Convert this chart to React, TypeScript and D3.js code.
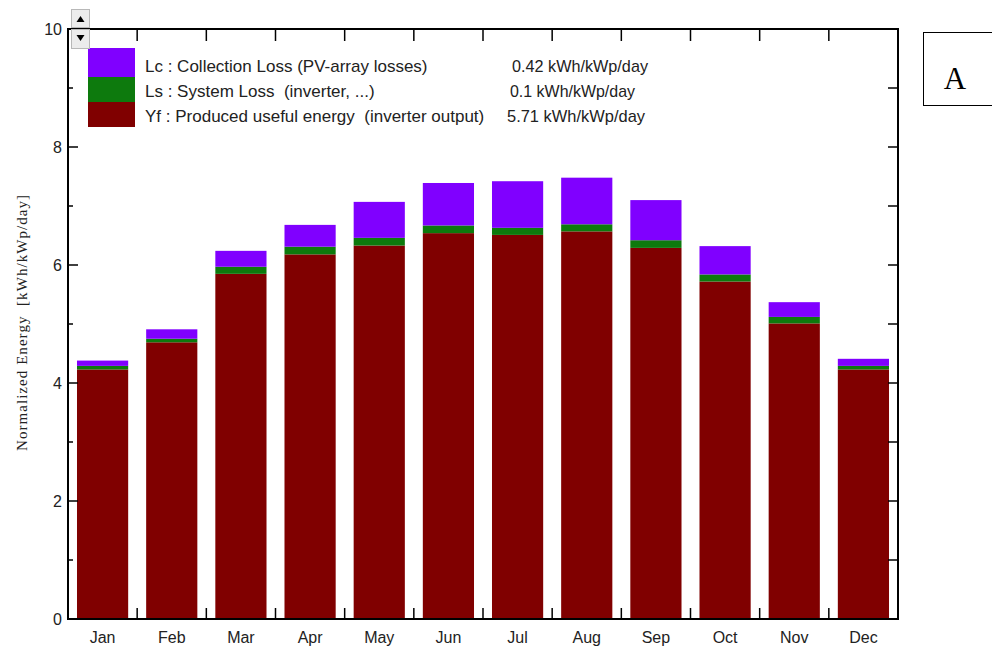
import React from "react";
import * as d3 from "d3";

const months = ["Jan", "Feb", "Mar", "Apr", "May", "Jun", "Jul", "Aug", "Sep", "Oct", "Nov", "Dec"];
const yf = [4.23, 4.69, 5.85, 6.18, 6.33, 6.54, 6.51, 6.57, 6.29, 5.72, 5.01, 4.23];
const ls = [0.06, 0.06, 0.12, 0.13, 0.13, 0.13, 0.12, 0.12, 0.13, 0.12, 0.11, 0.06];
const lc = [0.09, 0.16, 0.27, 0.37, 0.61, 0.72, 0.79, 0.79, 0.68, 0.48, 0.25, 0.12];
const yTicks = [0, 2, 4, 6, 8, 10];
const legendItems = [
  { key: "lc", label: "Lc : Collection Loss (PV-array losses)", value: "0.42 kWh/kWp/day" },
  { key: "ls", label: "Ls : System Loss\u00a0\u00a0(inverter, ...)", value: "0.1 kWh/kWp/day" },
  { key: "yf", label: "Yf : Produced useful energy\u00a0\u00a0(inverter output)", value: "5.71 kWh/kWp/day" },
];
const colors: Record<string, string> = { lc: "#8000ff", ls: "#0d7a0d", yf: "#800000" };

const W = 992, H = 646;
const L = 68, R = 898, T = 29, B = 619;

export default function App() {
  const x = d3.scaleBand<string>().domain(months).range([L, R]).paddingInner(0.26).paddingOuter(0.13);
  const y = d3.scaleLinear().domain([0, 10]).range([B, T]);
  const bandW = (R - L) / months.length;
  const boundaries = d3.range(1, months.length).map((i) => L + i * bandW);
  const stackData = months.map((m, i) => ({ m, yf: yf[i], ls: ls[i], lc: lc[i] }));
  const series = d3.stack<any>().keys(["yf", "ls", "lc"])(stackData);
  const allTicks = d3.range(0, 11);
  const sans = "'Liberation Sans', Arial, sans-serif";
  const serif = "'Liberation Serif', 'Times New Roman', serif";
  const swY = [48, 77, 102];
  const swH = [29, 25, 25];
  const valX = [512, 510, 507];
  const valLen = [136, 125, 138];

  return (
    <svg width={W} height={H} style={{ position: "absolute", left: 0, top: 0, background: "#fff" }}>
      {series.map((s) => (
        <g key={s.key} fill={colors[s.key]}>
          {s.map((d, i) => (
            <rect key={i} x={x(months[i])} width={x.bandwidth()} y={y(d[1])} height={y(d[0]) - y(d[1])} />
          ))}
        </g>
      ))}
      <rect x={L} y={T} width={R - L} height={B - T} fill="none" stroke="#000" strokeWidth={2} />
      {boundaries.map((bx, i) => (
        <g key={i} stroke="#000" strokeWidth={1.5}>
          <line x1={bx} x2={bx} y1={T} y2={T + 12} />
          <line x1={bx} x2={bx} y1={B} y2={B - 11} />
        </g>
      ))}
      {allTicks.map((v) => (
        <g key={v} stroke="#000" strokeWidth={1.5}>
          <line x1={L} x2={L + (v % 2 === 0 ? 10 : 5)} y1={y(v)} y2={y(v)} />
          <line x1={R} x2={R - 10} y1={y(v)} y2={y(v)} />
        </g>
      ))}
      {yTicks.map((v) => (
        <text key={v} x={L - 6} y={y(v)} dy="0.35em" textAnchor="end" fontFamily={sans} fontSize={16} fill="#222">
          {v}
        </text>
      ))}
      {months.map((m) => (
        <text key={m} x={(x(m) as number) + x.bandwidth() / 2} y={643} textAnchor="middle" fontFamily={sans} fontSize={16} fill="#222">
          {m}
        </text>
      ))}
      <text
        transform={`translate(27,323) rotate(-90)`}
        textAnchor="middle"
        fontFamily={serif}
        fontSize={15}
        fill="#222"
        textLength={256}
        lengthAdjust="spacing"
      >
        Normalized Energy{"\u00a0\u00a0"}[kWh/kWp/day]
      </text>
      {legendItems.map((it, i) => (
        <g key={it.key}>
          <rect x={88} y={swY[i]} width={47} height={swH[i]} fill={colors[it.key]} />
          <text x={145} y={72 + i * 24.8} fontFamily={sans} fontSize={17} fill="#222">
            {it.label}
          </text>
          <text x={valX[i]} y={72 + i * 24.8} fontFamily={sans} fontSize={17} fill="#222" textLength={valLen[i]} lengthAdjust="spacingAndGlyphs">
            {it.value}
          </text>
        </g>
      ))}
      <g>
        <rect x={71.5} y={9.5} width={18} height={18} fill="#ececec" stroke="#b8b8b8" />
        <path d="M76.5,22 L84.5,22 L80.5,16 Z" fill="#000" />
        <rect x={71.5} y={29.5} width={18} height={19} fill="#ececec" stroke="#b8b8b8" />
        <path d="M76.5,35 L84.5,35 L80.5,41 Z" fill="#000" />
      </g>
      <rect x={923.5} y={32.5} width={70} height={73} fill="#fff" stroke="#000" strokeWidth={1} />
      <text x={955} y={89} textAnchor="middle" fontFamily={serif} fontSize={31} fill="#000">
        A
      </text>
    </svg>
  );
}
